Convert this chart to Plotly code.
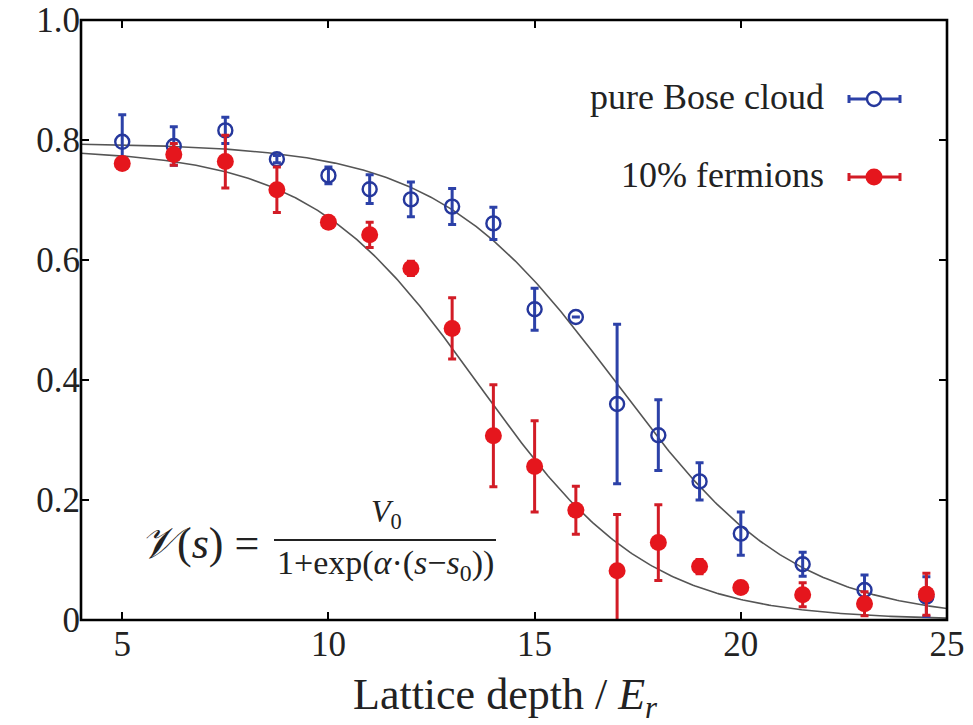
import numpy as np
import plotly.graph_objects as go

# ---- data ----
depth = [5, 6.25, 7.5, 8.75, 10, 11, 12, 13, 14, 15, 16, 17, 18, 19, 20, 21.5, 23, 24.5]

bose_v = [0.797, 0.790, 0.816, 0.768, 0.741, 0.718, 0.701, 0.689, 0.661, 0.518, 0.505, 0.360,
          0.308, 0.231, 0.144, 0.093, 0.050, 0.039]
bose_err = [0.045, 0.032, 0.022, 0.006, 0.014, 0.024, 0.029, 0.030, 0.027, 0.035, 0.0, 0.133,
            0.059, 0.031, 0.036, 0.020, 0.025, 0.033]

ferm_v = [0.761, 0.776, 0.764, 0.717, 0.663, 0.642, 0.586, 0.486, 0.307, 0.256, 0.183, 0.082,
          0.129, 0.089, 0.054, 0.042, 0.027, 0.043]
ferm_err = [0.006, 0.018, 0.044, 0.038, 0.0, 0.021, 0.012, 0.051, 0.085, 0.076, 0.040, 0.094,
            0.063, 0.012, 0.0, 0.020, 0.020, 0.035]

# fit parameters for V(s) = V0 / (1 + exp(alpha*(s - s0)))
bose_fit = dict(V0=0.795, alpha=0.46, s0=16.95)
ferm_fit = dict(V0=0.785, alpha=0.486, s0=13.64)

x_ticks = [5, 10, 15, 20, 25]
y_ticks = [0, 0.2, 0.4, 0.6, 0.8, 1.0]
y_tick_text = ["0", "0.2", "0.4", "0.6", "0.8", "1.0"]

x_title = "Lattice depth / <i>E</i><sub><i>r</i></sub>"
legend_labels = ["pure Bose cloud", "10% fermions"]

# ---- styles ----
BLUE = "#25379c"
BLUE_BAR = "#2c41a8"
RED = "#e5161d"
RED_BAR = "#d21c26"
FIT = "#555555"
SERIF = "Liberation Serif"
TXT = "#222222"

def fit_curve(p, s):
    return p["V0"] / (1.0 + np.exp(p["alpha"] * (s - p["s0"])))

s_grid = np.linspace(4, 25, 400)

fig = go.Figure()

fig.add_trace(go.Scatter(x=s_grid, y=fit_curve(bose_fit, s_grid), mode="lines",
                         line=dict(color=FIT, width=1.6), hoverinfo="skip", showlegend=False))
fig.add_trace(go.Scatter(x=s_grid, y=fit_curve(ferm_fit, s_grid), mode="lines",
                         line=dict(color=FIT, width=1.6), hoverinfo="skip", showlegend=False))

fig.add_trace(go.Scatter(
    x=depth, y=bose_v, mode="markers", name=legend_labels[0],
    marker=dict(symbol="circle-open", size=14, color=BLUE, line=dict(width=2.4, color=BLUE)),
    error_y=dict(type="data", array=bose_err, visible=True, color=BLUE_BAR, thickness=3, width=4),
    showlegend=False))

fig.add_trace(go.Scatter(
    x=depth, y=ferm_v, mode="markers", name=legend_labels[1],
    marker=dict(symbol="circle", size=17, color=RED, line=dict(width=0)),
    error_y=dict(type="data", array=ferm_err, visible=True, color=RED_BAR, thickness=3, width=4),
    showlegend=False))

# ---- geometry helpers for decorations (paper coords) ----
L, R, T, B = 81, 947, 20, 620
W, H = 973, 725

def px(x):
    return (x - L) / (R - L)

def py(y):
    return (B - y) / (B - T)

shapes = []
annotations = []

# plot frame
shapes.append(dict(type="rect", xref="paper", yref="paper", x0=0, x1=1, y0=0, y1=1,
                   line=dict(color="black", width=2.6), fillcolor="rgba(0,0,0,0)",
                   layer="above"))

# legend keys: horizontal bar with caps + marker, text to the left
legend_rows = [(99, BLUE, BLUE_BAR, True), (177, RED, RED_BAR, False)]
for (yy, mc, bc, is_open), label in zip(legend_rows, legend_labels):
    shapes.append(dict(type="line", xref="paper", yref="paper", x0=px(849), x1=px(900),
                       y0=py(yy), y1=py(yy), line=dict(color=bc, width=3)))
    for xc in (849, 900):
        shapes.append(dict(type="line", xref="paper", yref="paper", x0=px(xc), x1=px(xc),
                           y0=py(yy - 4), y1=py(yy + 4), line=dict(color=bc, width=3)))
    r = 7 if is_open else 8.5
    shapes.append(dict(type="circle", xref="paper", yref="paper",
                       x0=px(874 - r), x1=px(874 + r), y0=py(yy + r), y1=py(yy - r),
                       fillcolor="white" if is_open else mc,
                       line=dict(color=mc, width=2.4 if is_open else 0)))
    annotations.append(dict(xref="paper", yref="paper", x=px(826), y=py(yy - 2),
                            xanchor="right", yanchor="middle", showarrow=False, text=label,
                            font=dict(family=SERIF, size=36, color=TXT)))

# formula annotation
annotations.append(dict(xref="paper", yref="paper", x=px(138), y=py(543), xanchor="left",
                        yanchor="middle", showarrow=False,
                        text="<i>𝒱</i>(<i>s</i>) =",
                        font=dict(family=SERIF, size=44, color=TXT)))
shapes.append(dict(type="line", xref="paper", yref="paper", x0=px(274), x1=px(496),
                   y0=py(540), y1=py(540), line=dict(color=TXT, width=1.8)))
annotations.append(dict(xref="paper", yref="paper", x=px(386), y=py(536), xanchor="center",
                        yanchor="bottom", showarrow=False,
                        text="<i>V</i><sub>0</sub>",
                        font=dict(family=SERIF, size=32, color=TXT)))
annotations.append(dict(xref="paper", yref="paper", x=px(385), y=py(542), xanchor="center",
                        yanchor="top", showarrow=False,
                        text="1+exp(<i>α</i>·(<i>s</i>−<i>s</i><sub>0</sub>))",
                        font=dict(family=SERIF, size=34, color=TXT)))

# x-axis title as an annotation for exact placement
annotations.append(dict(xref="paper", yref="paper", x=px(505), y=py(697), xanchor="center",
                        yanchor="middle", showarrow=False, text=x_title,
                        font=dict(family=SERIF, size=44, color=TXT)))

axis_common = dict(
    showline=False, mirror="ticks",
    ticks="inside", ticklen=8, tickwidth=2.2, tickcolor="black",
    showgrid=False, zeroline=False, automargin=False,
    tickfont=dict(family=SERIF, size=35, color=TXT),
)

fig.update_layout(
    width=W, height=H, autosize=False,
    margin=dict(l=L, r=W - R, t=T, b=H - B, autoexpand=False),
    paper_bgcolor="white", plot_bgcolor="white",
    font=dict(family=SERIF, color=TXT),
    showlegend=False,
    xaxis=dict(range=[4, 25], tickvals=x_ticks, ticktext=[str(v) for v in x_ticks],
               **axis_common),
    yaxis=dict(range=[0, 1.0], tickvals=y_ticks, ticktext=y_tick_text,
               **axis_common),
    shapes=shapes,
    annotations=annotations,
)

fig.write_html("out.html")
